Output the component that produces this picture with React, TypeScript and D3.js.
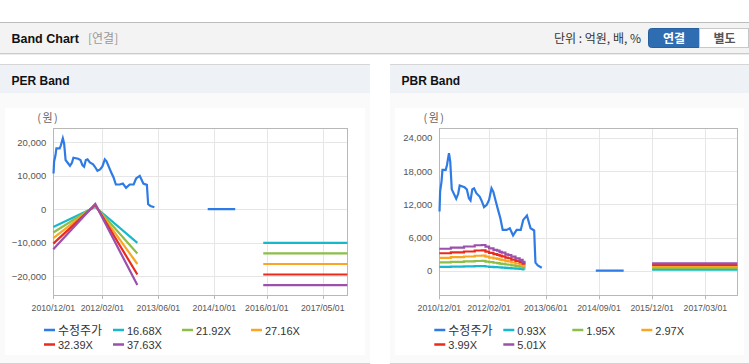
import React from 'react';
import * as d3 from 'd3';

// ---------------- data ----------------
const priceDates = [
  '2010-12-03', '2010-12-08', '2010-12-20', '2010-12-28', '2011-01-25', '2011-02-05', '2011-02-22',
  '2011-03-05', '2011-03-18', '2011-04-05', '2011-04-25', '2011-05-12', '2011-05-25', '2011-07-05',
  '2011-07-25', '2011-08-12', '2011-08-26', '2011-09-10', '2011-09-25', '2011-10-15', '2011-11-12',
  '2011-11-28', '2011-12-20', '2012-01-12', '2012-02-01', '2012-02-22', '2012-03-08', '2012-03-30',
  '2012-04-18', '2012-05-08', '2012-05-28', '2012-07-01', '2012-07-28', '2012-08-25', '2012-09-25',
  '2012-10-30', '2012-11-20', '2012-12-22', '2013-01-22', '2013-02-22', '2013-03-05', '2013-03-25',
  '2013-04-28', '2013-06-15', '2014-08-05', '2015-04-01',
];
const priceValues: (number | null)[] = [
  10700, 14300, 16100, 18200, 18200, 19100, 21200,
  19700, 14700, 13900, 13000, 13900, 15400, 15100,
  14700, 13100, 12700, 14700, 14900, 14000, 13400,
  12700, 11500, 11900, 12800, 14900, 14300, 12500,
  11000, 9500, 7400, 7400, 7700, 6400, 7400,
  7400, 9200, 10000, 7700, 7300, 1500, 1000,
  600, null, 80, 80,
];

const perEpsDates = ['2010-12-01', '2011-12-01', '2012-12-01', '2013-06-01', '2015-12-01', '2017-12-01'];
const perEpsValues: (number | null)[] = [-316, 42, -601, null, -601, -601];

const pbrBpsDates = [
  '2010-12-01', '2011-03-10', '2011-07-01', '2011-10-01', '2011-12-01', '2012-01-01', '2012-02-01',
  '2012-03-10', '2012-04-10', '2012-05-01', '2012-05-20', '2012-06-20', '2012-07-15', '2012-08-10',
  '2012-09-15', '2012-10-20', '2012-11-15', '2012-12-01', '2013-06-01', '2015-12-01', '2017-12-01',
];
const pbrBpsValues: (number | null)[] = [
  800, 840, 880, 925, 934, 873, 816,
  760, 729, 690, 657, 600, 575, 514,
  456, 400, 330, 277, null, 277, 277,
];

const perMultiples = [16.68, 21.92, 27.16, 32.39, 37.63];
const pbrMultiples = [0.93, 1.95, 2.97, 3.99, 5.01];

const perYTicks = [-20000, -10000, 0, 10000, 20000];
const pbrYTicks = [0, 6000, 12000, 18000, 24000];
const perXTicks = ['2010-12-01', '2012-02-01', '2013-06-01', '2014-10-01', '2016-01-01', '2017-05-01'];
const pbrXTicks = ['2010-12-01', '2012-02-01', '2013-06-01', '2014-09-01', '2015-12-01', '2017-03-01'];
const xDomain = ['2010-12-01', '2017-12-01'];
const perYDomain = [-25580, 24270];
const pbrYDomain = [-4375, 25690];

const priceLabel = '수정주가';
const priceColor = '#2f7be5';
const bandColors = ['#17b8cc', '#8bbf48', '#f9a623', '#ea2a1d', '#9b50ab'];

// ---------------- helpers ----------------
const parse = d3.timeParse('%Y-%m-%d');
const fmtDate = d3.timeFormat('%Y/%m/%d');
const fmtNum = d3.format(',');
const FONT = "'Liberation Sans', Arial, 'Noto Sans CJK KR', sans-serif";
const KFONT = "'Noto Sans CJK KR', 'Liberation Sans', sans-serif";

type Pt = { d: Date; v: number | null };

function zipSeries(dates: string[], vals: (number | null)[], mult = 1): Pt[] {
  return dates.map((s, i) => ({ d: parse(s) as Date, v: vals[i] == null ? null : (vals[i] as number) * mult }));
}

interface ChartProps {
  left: number; right: number; top: number; bottom: number;
  yDomain: number[]; yTicks: number[]; xTicks: string[];
  baseDates: string[]; baseValues: (number | null)[]; multiples: number[];
  step: boolean; legendX: number; unitX: number;
}

function BandPlot(p: ChartProps) {
  const x = d3.scaleTime().domain(xDomain.map((s) => parse(s) as Date)).range([p.left, p.right]);
  const y = d3.scaleLinear().domain(p.yDomain).range([p.bottom, p.top]);
  const line = d3.line<Pt>()
    .defined((d) => d.v != null)
    .x((d) => x(d.d))
    .y((d) => y(d.v as number));
  const bandLine = d3.line<Pt>()
    .defined((d) => d.v != null)
    .x((d) => x(d.d))
    .y((d) => y(d.v as number))
    .curve(p.step ? d3.curveStepAfter : d3.curveLinear);

  const price = zipSeries(priceDates, priceValues);
  const bands = p.multiples.map((m) => zipSeries(p.baseDates, p.baseValues, m));

  const legendItems = [
    { label: priceLabel, color: priceColor },
    ...p.multiples.map((m, i) => ({ label: m.toFixed(2) + 'X', color: bandColors[i] })),
  ];

  return (
    <g>
      <text x={p.unitX} y={122} fontSize={11} fill="#666" fontFamily={KFONT} textAnchor="middle" letterSpacing={1.5}>(원)</text>
      {/* grid */}
      {p.yTicks.map((t) => (
        <line key={'gy' + t} x1={p.left} x2={p.right} y1={Math.round(y(t)) + 0.5} y2={Math.round(y(t)) + 0.5} stroke="#e6e6e6" />
      ))}
      {p.xTicks.map((t) => {
        const xx = Math.round(x(parse(t) as Date)) + 0.5;
        return (
          <g key={'gx' + t}>
            <line x1={xx} x2={xx} y1={p.top} y2={p.bottom} stroke="#e6e6e6" />
            <line x1={xx} x2={xx} y1={p.bottom} y2={p.bottom + 4} stroke="#b8b8b8" />
          </g>
        );
      })}
      <rect x={Math.round(p.left) + 0.5} y={Math.round(p.top) + 0.5} width={Math.round(p.right - p.left)} height={Math.round(p.bottom - p.top)} fill="none" stroke="#b8b8b8" />
      {/* y labels */}
      {p.yTicks.map((t) => (
        <text key={'ly' + t} x={p.left - 7} y={y(t) + 3.5} fontSize={9.5} fill="#555" textAnchor="end" fontFamily={FONT}>{fmtNum(t)}</text>
      ))}
      {/* x labels */}
      {p.xTicks.map((t) => (
        <text key={'lx' + t} x={x(parse(t) as Date) - 21.7} y={311} fontSize={9.6} fill="#555" textLength={43.5} lengthAdjust="spacingAndGlyphs" fontFamily={FONT}>{fmtDate(parse(t) as Date)}</text>
      ))}
      {/* series */}
      <path d={line(price) || ''} fill="none" stroke={priceColor} strokeWidth={2.2} />
      {bands.map((b, i) => (
        <path key={'b' + i} d={bandLine(b) || ''} fill="none" stroke={bandColors[i]} strokeWidth={2.2} />
      ))}
      {/* legend */}
      {legendItems.map((it, i) => {
        const col = i % 4;
        const row = Math.floor(i / 4);
        const lx = p.legendX + col * 69;
        const ly = 330 + row * 14.5;
        return (
          <g key={'lg' + i}>
            <line x1={lx} x2={lx + 11} y1={ly} y2={ly} stroke={it.color} strokeWidth={2.5} />
            <text x={lx + 14} y={ly + 4.5} fontSize={i === 0 ? 12 : 11} fill="#333" fontFamily={i === 0 ? KFONT : FONT}>{it.label}</text>
          </g>
        );
      })}
    </g>
  );
}

function Panel({ x, w, title }: { x: number; w: number; title: string }) {
  return (
    <g>
      <rect x={x} y={64} width={w} height={29} fill="#eef2f7" />
      <line x1={x} x2={x + w} y1={64.5} y2={64.5} stroke="#d6d6d6" />
      <rect x={x} y={93} width={w} height={270} fill="#fafafa" />
      <rect x={x + 5} y={108} width={w - 10} height={247} fill="#ffffff" />
      <line x1={x} x2={x + w} y1={363.5} y2={363.5} stroke="#d2d2d2" />
      <text x={x + 11.5} y={85} fontSize={12} fontWeight="bold" fill="#111" fontFamily={FONT}>{title}</text>
    </g>
  );
}

export default function App() {
  return (
    <svg width={749} height={364} style={{ position: 'absolute', left: 0, top: 0, background: '#fff' }}>
      {/* top header */}
      <line x1={0} x2={749} y1={22.5} y2={22.5} stroke="#bdbdbd" />
      <rect x={0} y={23} width={749} height={30} fill="#f3f3f3" />
      <line x1={0} x2={749} y1={53.5} y2={53.5} stroke="#cbcbcb" />
      <line x1={0} x2={749} y1={54.5} y2={54.5} stroke="#ececec" />
      <text x={11.5} y={43} fontSize={12.5} fontWeight="bold" fill="#111" fontFamily={FONT}>Band Chart</text>
      <text x={88} y={43} fontSize={12} fill="#999" fontFamily={KFONT}>[연결]</text>
      <text x={641} y={42.5} fontSize={12} fill="#333" textAnchor="end" fontFamily={KFONT}>단위 : 억원, 배, %</text>
      <path d="M651.5,28.5 H699.5 V47.5 H651.5 Q648.5,47.5 648.5,44.5 V31.5 Q648.5,28.5 651.5,28.5 Z" fill="#2f6db3" stroke="#28609f" />
      <rect x={699.5} y={28.5} width={49} height={19} fill="#ffffff" stroke="#c8c8c8" />
      <text x={674} y={42.5} fontSize={12} fontWeight="bold" fill="#fff" textAnchor="middle" fontFamily={KFONT}>연결</text>
      <text x={724.5} y={42.5} fontSize={12} fontWeight="bold" fill="#555" textAnchor="middle" fontFamily={KFONT}>별도</text>

      <Panel x={0} w={370} title="PER Band" />
      <Panel x={390} w={359} title="PBR Band" />

      <BandPlot left={53.3} right={347.3} top={128} bottom={295}
        yDomain={perYDomain} yTicks={perYTicks} xTicks={perXTicks}
        baseDates={perEpsDates} baseValues={perEpsValues} multiples={perMultiples}
        step={false} legendX={44} unitX={48.3} />
      <BandPlot left={439.3} right={737.3} top={128.3} bottom={295.3}
        yDomain={pbrYDomain} yTicks={pbrYTicks} xTicks={pbrXTicks}
        baseDates={pbrBpsDates} baseValues={pbrBpsValues} multiples={pbrMultiples}
        step={true} legendX={434.3} unitX={434.5} />
    </svg>
  );
}
